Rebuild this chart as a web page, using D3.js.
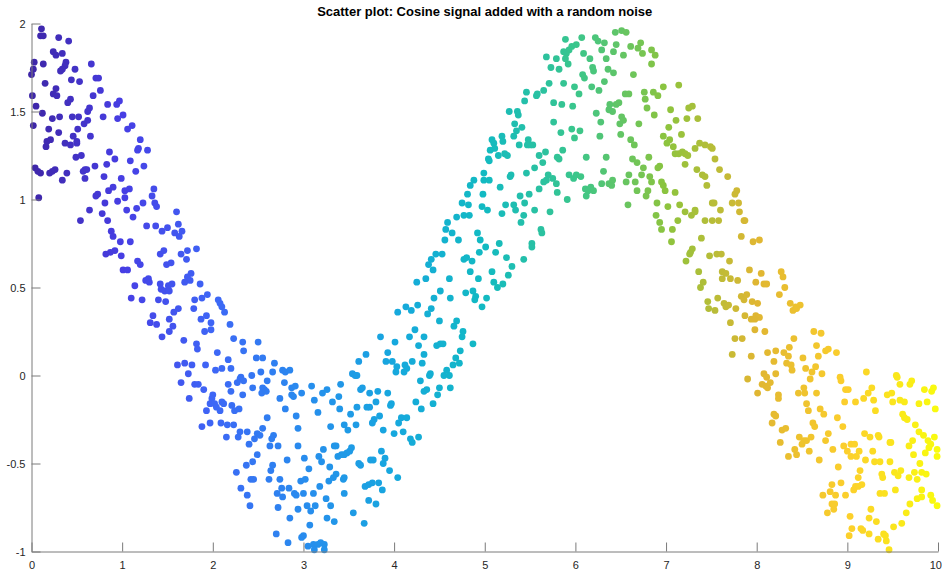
<!DOCTYPE html>
<html>
<head>
<meta charset="utf-8">
<script src="https://cdn.jsdelivr.net/npm/d3@7"></script>
<style>
  body { margin: 0; background: #fff; }
  svg { display: block; }
</style>
</head>
<body>
<svg id="chart" width="942" height="573"></svg>
<script>
const chartTitle = 'Scatter plot: Cosine signal added with a random noise';
const xTicks = [0, 1, 2, 3, 4, 5, 6, 7, 8, 9, 10];
const yTicks = [-1, -0.5, 0, 0.5, 1, 1.5, 2];

// [x, y] samples, left to right
const points = [
  [0.11,1.97],[0.10,1.93],[0.13,1.93],[0.30,1.92],[0.41,1.90],[0.24,1.84],[0.27,1.82],[0.34,1.83],[0.03,1.78],[0.13,1.77],
  [0.38,1.78],[0.37,1.76],[0.34,1.74],[0.32,1.73],[0.48,1.74],[0.66,1.77],[0.02,1.74],[0.00,1.71],[0.15,1.66],[0.44,1.68],
  [0.53,1.67],[0.71,1.69],[0.74,1.69],[0.27,1.63],[0.24,1.60],[0.28,1.59],[0.76,1.62],[0.01,1.59],[0.68,1.59],[0.43,1.57],
  [0.40,1.55],[0.84,1.54],[0.94,1.54],[0.05,1.53],[0.12,1.49],[0.64,1.52],[0.62,1.50],[0.23,1.46],[0.31,1.47],[0.45,1.47],
  [0.52,1.47],[0.62,1.45],[0.58,1.43],[0.79,1.47],[0.95,1.46],[0.02,1.42],[0.19,1.40],[0.30,1.38],[0.51,1.40],[0.46,1.36],
  [0.50,1.33],[0.21,1.34],[0.17,1.33],[0.16,1.30],[0.37,1.32],[0.43,1.31],[0.50,1.32],[0.65,1.36],[0.86,1.27],[0.55,1.25],
  [0.49,1.24],[0.92,1.23],[0.83,1.20],[0.70,1.19],[0.04,1.18],[0.07,1.16],[0.10,1.15],[0.20,1.15],[0.23,1.16],[0.26,1.17],
  [0.39,1.15],[0.57,1.16],[0.59,1.17],[0.61,1.17],[0.59,1.12],[0.80,1.13],[0.34,1.11],[0.90,1.07],[0.85,1.05],[0.73,1.03],
  [0.71,1.02],[0.81,0.98],[0.95,0.99],[0.08,1.01],[0.64,0.94],[0.54,0.88],[0.78,0.92],[0.84,0.88],[0.88,0.82],[0.90,0.79],
  [0.92,0.71],[0.87,0.70],[0.82,0.69],
  [0.97,1.56],[1.01,1.48],[1.06,1.40],[1.11,1.42],[1.20,1.34],[1.17,1.28],[1.18,1.29],[1.28,1.28],[1.09,1.22],[1.15,1.16],
  [1.24,1.19],[0.99,1.12],[1.03,1.05],[1.08,1.06],[1.03,1.01],[1.35,1.06],[1.33,1.02],[1.36,0.98],[1.38,0.96],[1.23,0.98],
  [1.16,0.95],[1.05,0.94],[1.12,0.90],[1.60,0.93],[1.27,0.85],[1.37,0.85],[1.44,0.82],[1.50,0.84],[1.62,0.86],[1.58,0.81],
  [1.63,0.79],[1.66,0.82],[0.98,0.76],[1.09,0.76],[0.99,0.68],[1.01,0.60],[1.06,0.60],[1.17,0.65],[1.20,0.63],[1.42,0.69],
  [1.46,0.71],[1.65,0.69],[1.72,0.71],[1.82,0.72],[1.71,0.66],[1.49,0.63],[1.54,0.64],[1.76,0.58],[1.72,0.56],[1.75,0.54],
  [1.69,0.53],[1.86,0.52],[1.26,0.54],[1.29,0.55],[1.30,0.53],[1.42,0.52],[1.14,0.51],[1.43,0.49],[1.47,0.48],[1.52,0.48],
  [1.51,0.51],[1.55,0.52],[1.10,0.44],[1.22,0.43],[1.40,0.43],[1.48,0.42],[1.62,0.38],[1.57,0.36],[1.80,0.43],[1.88,0.44],
  [1.94,0.46],[1.79,0.38],[1.87,0.32],[1.93,0.34],[1.91,0.25],[1.34,0.34],[1.31,0.30],[1.38,0.29],[1.52,0.32],[1.56,0.28],
  [1.52,0.25],[1.44,0.22],[1.68,0.20],[1.82,0.18],[1.83,0.15],[1.61,0.06],[1.69,0.07],[1.77,0.06],[1.92,0.06],[1.73,0.01],
  [1.65,-0.04],[1.80,-0.05],[1.84,-0.05],[1.90,-0.08],[1.74,-0.13],[1.93,-0.20],[1.88,-0.29],
  [1.98,0.30],[1.98,0.26],[2.06,0.43],[2.08,0.41],[2.10,0.39],[2.13,0.36],[2.19,0.29],[2.23,0.21],[2.33,0.19],[2.50,0.19],
  [2.34,0.14],[2.05,0.13],[2.48,0.10],[2.55,0.10],[2.17,0.09],[2.68,0.07],[2.03,0.03],[2.10,0.04],[2.20,0.04],[2.53,0.02],
  [2.66,0.02],[2.77,0.03],[2.80,0.02],[2.85,0.03],[2.43,0.00],[2.31,-0.01],[2.27,-0.04],[2.30,-0.02],[2.34,-0.03],[2.60,-0.03],
  [2.79,-0.04],[2.17,-0.05],[2.20,-0.09],[2.33,-0.11],[2.44,-0.07],[2.55,-0.07],[2.57,-0.08],[2.54,-0.10],[2.59,-0.09],[2.87,-0.07],
  [2.91,-0.06],[2.87,-0.11],[2.89,-0.12],[2.74,-0.13],[2.00,-0.11],[1.99,-0.13],[1.97,-0.16],[2.02,-0.16],[2.10,-0.15],[2.12,-0.16],
  [2.04,-0.18],[2.08,-0.20],[2.21,-0.17],[2.24,-0.20],[2.29,-0.19],[2.80,-0.19],[2.92,-0.23],[2.60,-0.24],[1.97,-0.27],[2.09,-0.27],
  [2.16,-0.28],[2.23,-0.28],[2.55,-0.30],[2.49,-0.33],[2.52,-0.34],[2.46,-0.36],[2.40,-0.39],[2.38,-0.32],[2.30,-0.32],[2.28,-0.35],
  [2.15,-0.35],[2.67,-0.34],[2.65,-0.36],[2.63,-0.40],[2.72,-0.40],[2.94,-0.30],[2.94,-0.40],[2.49,-0.45],[2.44,-0.49],[2.37,-0.51],
  [2.26,-0.55],[2.82,-0.48],[2.66,-0.51],[2.64,-0.54],[2.62,-0.59],[2.42,-0.59],[2.45,-0.59],[2.74,-0.59],[2.31,-0.64],[2.38,-0.68],
  [2.41,-0.74],[2.84,-0.64],[2.76,-0.64],[2.71,-0.67],[2.77,-0.69],[2.90,-0.67],[2.92,-0.68],[2.72,-0.75],[2.85,-0.81],[2.70,-0.90],
  [2.83,-0.95],
  [3.85,0.22],[3.93,0.13],[3.91,0.08],[3.69,0.12],[3.61,0.08],[3.54,0.01],[3.57,0.00],[3.59,0.00],[3.41,-0.05],[3.09,-0.06],
  [2.98,-0.10],[3.21,-0.10],[3.26,-0.08],[3.39,-0.12],[3.32,-0.15],[3.12,-0.14],[3.63,-0.08],[3.65,-0.07],[3.73,-0.10],[3.82,-0.09],
  [3.93,-0.10],[3.80,-0.15],[3.73,-0.18],[3.70,-0.18],[3.40,-0.19],[3.59,-0.18],[3.52,-0.22],[3.16,-0.21],[3.84,-0.23],[3.78,-0.25],
  [3.76,-0.27],[3.30,-0.29],[3.45,-0.28],[3.49,-0.31],[3.58,-0.28],[3.88,-0.31],[3.34,-0.40],[3.36,-0.40],[3.22,-0.42],[3.17,-0.46],
  [3.20,-0.49],[3.01,-0.47],[3.38,-0.46],[3.42,-0.45],[3.45,-0.45],[3.48,-0.44],[3.51,-0.43],[3.53,-0.41],[3.86,-0.43],[3.77,-0.48],
  [3.74,-0.48],[3.90,-0.47],[3.88,-0.50],[3.95,-0.54],[3.61,-0.50],[3.63,-0.51],[3.06,-0.53],[3.29,-0.52],[3.36,-0.56],[3.33,-0.58],
  [3.28,-0.60],[3.45,-0.58],[3.44,-0.59],[2.97,-0.60],[3.02,-0.59],[3.18,-0.63],[3.11,-0.67],[3.00,-0.67],[3.45,-0.67],[3.68,-0.63],
  [3.72,-0.62],[3.76,-0.61],[3.83,-0.61],[3.87,-0.65],[4.04,-0.58],[2.94,-0.76],[3.04,-0.74],[3.08,-0.77],[3.13,-0.74],[3.30,-0.74],
  [3.25,-0.70],[3.72,-0.71],[3.80,-0.73],[3.55,-0.78],[3.26,-0.81],[3.34,-0.83],[3.67,-0.84],[3.07,-0.85],[3.00,-0.91],[2.98,-0.92],
  [3.05,-0.97],[3.11,-0.96],[3.16,-0.96],[3.19,-0.95],[3.23,-0.96],[3.12,-0.99],[3.23,-0.99],
  [4.88,1.11],[4.84,1.08],[4.81,1.03],[4.75,0.98],[4.82,0.97],[4.77,0.91],[4.83,0.91],[4.69,0.90],[4.59,0.87],[4.57,0.83],
  [4.64,0.81],[4.92,0.81],[4.95,0.77],[4.56,0.77],[4.71,0.77],[4.46,0.69],[4.53,0.69],[4.41,0.66],[4.38,0.63],[4.43,0.60],
  [4.77,0.66],[4.80,0.67],[4.86,0.65],[4.94,0.70],[4.84,0.59],[4.93,0.55],[4.61,0.55],[4.25,0.53],[4.35,0.55],[4.51,0.48],
  [4.44,0.44],[4.62,0.44],[4.79,0.47],[4.87,0.48],[4.90,0.45],[4.89,0.43],[4.04,0.36],[4.13,0.39],[4.19,0.37],[4.26,0.40],
  [4.41,0.38],[4.37,0.35],[4.50,0.31],[4.69,0.31],[4.66,0.28],[4.23,0.26],[4.17,0.22],[4.33,0.22],[4.76,0.25],[4.75,0.22],
  [4.27,0.17],[4.47,0.17],[4.51,0.18],[4.54,0.18],[4.87,0.18],[4.33,0.12],[4.73,0.14],[4.68,0.10],[4.65,0.06],[4.72,0.07],
  [4.01,0.19],[4.20,0.08],[4.31,0.07],[3.98,0.08],[4.03,0.05],[4.02,0.02],[4.12,0.06],[4.14,0.04],[4.11,0.02],[4.40,0.01],
  [4.39,0.00],[4.55,0.00],[4.58,0.03],[4.61,0.00],[4.62,-0.07],[4.29,-0.03],[4.50,-0.07],[4.33,-0.09],[4.36,-0.08],[4.48,-0.11],
  [4.24,-0.15],[4.43,-0.16],[4.30,-0.19],[3.97,-0.16],[3.96,-0.17],[4.08,-0.24],[4.14,-0.24],[4.05,-0.27],[4.00,-0.33],[4.10,-0.32],
  [4.18,-0.36],[4.27,-0.35],[4.20,-0.38],
  [5.89,1.91],[5.93,1.85],[5.90,1.83],[5.87,1.84],[5.68,1.81],[5.79,1.80],[5.89,1.80],[5.92,1.77],[5.73,1.75],[5.82,1.74],
  [5.87,1.66],[5.71,1.66],[5.46,1.61],[5.44,1.56],[5.57,1.59],[5.58,1.60],[5.65,1.62],[5.76,1.55],[5.85,1.54],[5.27,1.50],
  [5.36,1.50],[5.37,1.48],[5.33,1.43],[5.41,1.41],[5.35,1.39],[5.32,1.36],[5.76,1.44],[5.84,1.38],[5.19,1.36],[5.08,1.34],
  [5.10,1.32],[5.11,1.29],[5.20,1.33],[5.06,1.28],[5.15,1.25],[5.22,1.26],[5.25,1.25],[5.38,1.31],[5.48,1.34],[5.50,1.31],
  [5.47,1.31],[5.53,1.31],[5.86,1.28],[5.80,1.24],[5.82,1.23],[5.60,1.25],[5.67,1.27],[5.64,1.21],[5.04,1.23],[5.05,1.22],
  [4.99,1.15],[4.99,1.11],[5.05,1.11],[5.29,1.14],[5.28,1.13],[5.46,1.15],[5.55,1.18],[5.70,1.14],[5.68,1.11],[5.65,1.10],
  [5.75,1.12],[5.79,1.09],[5.93,1.14],[5.60,1.06],[5.80,1.04],[5.91,1.00],[5.17,1.07],[5.39,1.02],[5.44,0.98],[5.49,1.03],
  [5.32,0.97],[5.34,0.94],[5.23,0.97],[5.19,0.92],[5.55,0.94],[5.72,0.93],[5.43,0.91],[5.40,0.87],[5.62,0.83],[5.63,0.81],
  [4.98,1.03],[4.97,0.96],[5.03,0.94],[5.01,0.73],[5.16,0.75],[5.12,0.70],[5.24,0.67],[5.30,0.62],[5.43,0.66],[5.52,0.75],
  [5.52,0.73],[5.08,0.59],[5.26,0.57],[5.10,0.53],[5.14,0.50],[5.20,0.52],[5.02,0.44],[4.97,0.39],
  [6.07,1.92],[6.22,1.92],[6.25,1.90],[6.32,1.89],[6.44,1.95],[6.51,1.96],[6.56,1.95],[6.72,1.89],[6.01,1.88],[5.96,1.87],
  [6.29,1.85],[6.42,1.84],[6.45,1.88],[6.53,1.82],[6.61,1.87],[6.69,1.86],[6.74,1.83],[6.84,1.85],[6.88,1.82],[6.09,1.83],
  [6.16,1.80],[6.34,1.80],[6.19,1.75],[6.20,1.73],[6.36,1.74],[6.42,1.72],[6.64,1.71],[6.84,1.77],[6.08,1.71],[6.10,1.69],
  [5.99,1.64],[6.18,1.64],[6.26,1.62],[6.32,1.67],[6.04,1.60],[6.55,1.60],[6.59,1.60],[6.76,1.61],[6.86,1.61],[6.91,1.59],
  [6.77,1.57],[5.97,1.53],[6.38,1.54],[6.41,1.50],[6.45,1.54],[6.48,1.55],[6.37,1.51],[6.79,1.52],[6.87,1.48],[6.23,1.49],
  [6.51,1.47],[6.53,1.45],[6.28,1.44],[6.49,1.43],[6.70,1.43],[5.96,1.40],[6.05,1.39],[5.99,1.35],[6.27,1.36],[6.50,1.37],
  [6.61,1.34],[6.65,1.31],[6.12,1.24],[6.34,1.24],[6.63,1.23],[6.68,1.21],[6.81,1.24],[6.93,1.19],[6.91,1.18],[6.75,1.18],
  [6.31,1.16],[6.73,1.14],[6.59,1.14],[6.82,1.13],[6.84,1.10],[6.95,1.10],[5.98,1.12],[6.01,1.14],[6.06,1.13],[6.17,1.07],
  [6.11,1.06],[6.14,1.05],[6.20,1.05],[6.12,1.02],[6.29,1.09],[6.37,1.09],[6.41,1.11],[6.40,1.08],[6.56,1.10],[6.66,1.10],
  [6.68,1.05],[6.80,1.05],[6.78,1.02],[6.58,0.97],[6.90,0.98],[6.89,0.91],[6.93,0.87],[6.95,0.83],
  [6.97,1.64],[7.14,1.65],[7.05,1.51],[7.25,1.52],[7.29,1.53],[7.23,1.46],[7.35,1.46],[7.11,1.45],[7.03,1.41],[7.17,1.37],
  [6.97,1.36],[7.04,1.34],[7.01,1.32],[7.08,1.30],[7.10,1.26],[7.14,1.26],[7.18,1.27],[7.21,1.26],[7.24,1.25],[7.32,1.29],
  [7.37,1.32],[7.43,1.31],[7.49,1.30],[7.51,1.29],[7.54,1.23],[7.21,1.20],[7.34,1.17],[7.40,1.14],[7.43,1.13],[7.45,1.08],
  [7.59,1.17],[7.68,1.13],[7.78,1.05],[7.76,1.03],[6.97,1.08],[6.99,1.05],[7.10,1.04],[7.51,0.98],[7.53,0.98],[7.60,0.94],
  [7.73,0.98],[7.80,0.98],[7.81,0.93],[7.02,0.96],[7.15,0.97],[7.21,0.93],[7.28,0.91],[7.32,0.94],[7.32,0.93],[7.43,0.88],
  [7.51,0.88],[7.58,0.88],[7.86,0.88],[7.87,0.88],[7.07,0.83],[7.13,0.88],[7.06,0.76],[7.39,0.78],[7.83,0.79],[7.29,0.72],
  [7.27,0.70],[7.26,0.69],[7.22,0.65],[7.48,0.68],[7.56,0.69],[7.61,0.69],[7.70,0.65],[7.36,0.59],[7.41,0.53],[7.38,0.50],
  [7.62,0.59],[7.66,0.58],[7.62,0.55],[7.71,0.55],[7.79,0.54],[7.92,0.60],[7.46,0.42],[7.47,0.38],[7.54,0.37],[7.57,0.44],
  [7.64,0.41],[7.66,0.39],[7.69,0.40],[7.77,0.38],[7.71,0.30],[7.83,0.45],[7.86,0.43],[7.89,0.46],[7.95,0.42],[7.87,0.34],
  [7.94,0.32],[7.76,0.21],[7.84,0.21],[7.73,0.12],[7.94,0.11],[7.90,-0.02],
  [7.96,0.76],[8.03,0.77],[8.05,0.58],[8.27,0.59],[8.29,0.56],[7.99,0.53],[8.08,0.52],[8.11,0.52],[8.31,0.50],[8.25,0.46],
  [8.01,0.41],[8.37,0.41],[8.48,0.40],[8.43,0.39],[8.40,0.37],[8.44,0.38],[7.99,0.34],[8.03,0.33],[7.98,0.32],[7.98,0.26],
  [8.09,0.25],[8.63,0.25],[8.71,0.24],[8.41,0.21],[8.36,0.16],[8.66,0.17],[8.76,0.14],[8.79,0.15],[8.88,0.13],[8.68,0.11],
  [8.12,0.13],[8.21,0.14],[8.30,0.13],[8.35,0.11],[8.19,0.08],[8.33,0.07],[8.38,0.06],[8.39,0.03],[8.51,0.10],[8.54,0.04],
  [8.65,0.05],[8.61,0.02],[8.72,0.01],[8.59,-0.02],[8.08,0.01],[8.11,-0.01],[8.21,0.01],[8.06,-0.05],[8.10,-0.06],[8.12,-0.07],
  [8.15,-0.04],[8.01,-0.10],[8.24,-0.11],[8.24,-0.13],[8.46,-0.10],[8.52,-0.07],[8.53,-0.10],[8.66,-0.10],[8.92,-0.01],[8.93,-0.03],
  [8.55,-0.16],[8.57,-0.20],[8.70,-0.19],[8.74,-0.22],[8.89,-0.24],[8.62,-0.27],[8.64,-0.29],[8.19,-0.22],[8.21,-0.23],[8.17,-0.27],
  [8.28,-0.31],[8.32,-0.30],[8.26,-0.38],[8.47,-0.35],[8.52,-0.37],[8.55,-0.37],[8.60,-0.35],[8.50,-0.39],[8.76,-0.37],[8.79,-0.33],
  [8.42,-0.42],[8.44,-0.45],[8.35,-0.46],[8.58,-0.43],[8.69,-0.48],[8.84,-0.42],[8.90,-0.52],[8.93,-0.61],[8.83,-0.62],[8.73,-0.68],
  [8.81,-0.66],[8.87,-0.68],[8.83,-0.73],[8.86,-0.73],[8.78,-0.78],[8.85,-0.76],
  [9.21,0.02],[9.54,0.00],[9.55,-0.01],[9.71,-0.03],[9.69,-0.05],[9.58,-0.05],[9.85,-0.08],[9.95,-0.07],[9.93,-0.09],[8.98,-0.08],
  [9.01,-0.08],[9.27,-0.07],[9.23,-0.10],[9.44,-0.11],[9.49,-0.10],[9.50,-0.15],[9.58,-0.14],[9.63,-0.15],[9.79,-0.16],[9.88,-0.15],
  [9.97,-0.19],[8.97,-0.15],[9.09,-0.15],[9.18,-0.13],[9.29,-0.14],[9.31,-0.20],[9.61,-0.22],[9.63,-0.24],[9.66,-0.25],[9.75,-0.28],
  [9.79,-0.32],[9.84,-0.34],[9.96,-0.35],[9.89,-0.37],[8.95,-0.29],[9.19,-0.33],[9.25,-0.35],[9.34,-0.34],[9.35,-0.35],[9.47,-0.38],
  [9.48,-0.38],[9.72,-0.37],[9.68,-0.40],[9.92,-0.39],[9.99,-0.42],[9.90,-0.41],[9.86,-0.44],[9.99,-0.46],[9.73,-0.45],[8.96,-0.40],
  [9.04,-0.39],[9.08,-0.39],[9.00,-0.43],[9.04,-0.46],[9.10,-0.46],[9.13,-0.43],[9.28,-0.43],[9.20,-0.48],[9.30,-0.49],[9.36,-0.49],
  [9.47,-0.49],[9.80,-0.50],[9.14,-0.54],[9.12,-0.58],[9.09,-0.63],[9.12,-0.63],[9.16,-0.62],[9.38,-0.56],[9.39,-0.58],[9.52,-0.55],
  [9.56,-0.57],[9.59,-0.54],[9.68,-0.58],[9.77,-0.59],[9.82,-0.55],[9.87,-0.56],[9.74,-0.55],[8.98,-0.68],[9.07,-0.65],[9.36,-0.67],
  [9.41,-0.67],[9.53,-0.65],[9.82,-0.65],[9.77,-0.70],[9.82,-0.69],[9.92,-0.68],[9.94,-0.71],[9.99,-0.74],[9.69,-0.73],[9.65,-0.78],
  [9.26,-0.76],[9.03,-0.80],[9.24,-0.81],[9.32,-0.83],[9.60,-0.84],[9.51,-0.86],[9.05,-0.87],[9.15,-0.87],[9.17,-0.88],[9.02,-0.91],
  [9.24,-0.90],[9.40,-0.90],[9.42,-0.91],[9.34,-0.93],[9.43,-0.94],[9.46,-0.99]
];

// parula-like colour stops, evenly spread over the colour range 0..10
const colourStops = ['#3e26a8', '#473ee4', '#3e66f6', '#288cee', '#16a8de', '#12bac2', '#3ac68c', '#8cc43e', '#e0b632', '#fccf2c', '#f9fb0e'];

const width = 942, height = 573;
const margin = { left: 31.5, right: 4, top: 23.5, bottom: 21.5 };

const svg = d3.select('#chart');

const x = d3.scaleLinear().domain([0, 10]).range([margin.left, width - margin.right]);
const y = d3.scaleLinear().domain([-1, 2]).range([height - margin.bottom, margin.top]);
const colour = d3.scaleLinear()
  .domain(colourStops.map((_, i) => i * 10 / (colourStops.length - 1)))
  .range(colourStops)
  .interpolate(d3.interpolateRgb)
  .clamp(true);

svg.append('g')
  .selectAll('circle')
  .data(points)
  .join('circle')
  .attr('cx', (d) => x(d[0]))
  .attr('cy', (d) => y(d[1]))
  .attr('r', 3.4)
  .attr('fill', (d) => colour(d[0]));

const xAxis = svg.append('g')
  .attr('transform', `translate(0,${y(-1)})`)
  .call(d3.axisBottom(x).tickValues(xTicks).tickFormat(d3.format('d')).tickSizeInner(-9).tickSizeOuter(0).tickPadding(10));

const yAxis = svg.append('g')
  .attr('transform', `translate(${x(0)},0)`)
  .call(d3.axisLeft(y).tickValues(yTicks).tickFormat((d) => String(d)).tickSizeInner(-9).tickSizeOuter(0).tickPadding(6));

[xAxis, yAxis].forEach((g) => {
  g.select('.domain').attr('stroke', '#7a7a7a').attr('stroke-width', 1);
  g.selectAll('.tick line').attr('stroke', '#7a7a7a');
  g.selectAll('.tick text')
    .attr('fill', '#262626')
    .attr('font-family', 'Liberation Sans, Arial, sans-serif')
    .attr('font-size', 11);
});

// keep the last x label inside the window
xAxis.selectAll('.tick text').filter((d) => d === 10).attr('dx', '-0.25em');

svg.append('text')
  .attr('x', (x(0) + x(10)) / 2)
  .attr('y', 16)
  .attr('text-anchor', 'middle')
  .attr('font-family', 'Liberation Sans, Arial, sans-serif')
  .attr('font-weight', 'bold')
  .attr('font-size', 13)
  .attr('fill', '#000')
  .text(chartTitle);
</script>
</body>
</html>
